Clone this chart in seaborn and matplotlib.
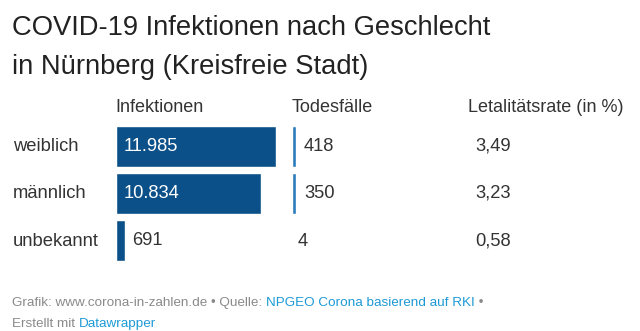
import matplotlib
matplotlib.use("Agg")
import matplotlib.pyplot as plt
import seaborn as sns
import pandas as pd

categories = ["weiblich", "männlich", "unbekannt"]
infektionen = [11985, 10834, 691]
todesfaelle = [418, 350, 4]
letalitaet = [3.49, 3.23, 0.58]
inf_labels = ["11.985", "10.834", "691"]
tod_labels = ["418", "350", "4"]
let_labels = ["3,49", "3,23", "0,58"]

sns.set_theme(style="white")
plt.rcParams["font.family"] = ["Liberation Sans", "DejaVu Sans"]

W, H = 640, 331
fig = plt.figure(figsize=(W / 100, H / 100), dpi=100)
fig.patch.set_facecolor("white")

def px_axes(left, top, width, height):
    return fig.add_axes([left / W, 1 - (top + height) / H, width / W, height / H])

df = pd.DataFrame({"cat": categories, "inf": infektionen, "tod": todesfaelle})

DARK = "#0b5089"
LIGHT = "#2b7cbd"
TXT = "#333333"
fs = 13.2

# Infektionen
ax1 = px_axes(116, 123, 160, 141)
sns.barplot(data=df, x="inf", y="cat", orient="h", color=DARK, width=0.87,
            saturation=1, ax=ax1)
ax1.set_xlim(0, max(infektionen))
ax1.set_ylim(2.5, -0.5)
ax1.axis("off")
for i, (v, lab) in enumerate(zip(infektionen, inf_labels)):
    if v > 3000:
        ax1.text(560, i, lab, color="white", va="center", ha="left", fontsize=fs)
    else:
        ax1.text(v + 520, i, lab, color=TXT, va="center", ha="left", fontsize=fs)

# Todesfälle
ax2 = px_axes(292, 123, 40, 141)
sns.barplot(data=df, x="tod", y="cat", orient="h", color=LIGHT, width=0.87,
            saturation=1, ax=ax2)
ax2.set_xlim(0, 3900)
ax2.set_ylim(2.5, -0.5)
ax2.axis("off")

row_y = [146.5, 193.5, 241.5]
for i, y in enumerate(row_y):
    fig.text(13 / W, 1 - y / H, categories[i], color=TXT, fontsize=fs, va="center", ha="left")
    tx = 304 if todesfaelle[i] > 50 else 298
    fig.text(tx / W, 1 - y / H, tod_labels[i], color=TXT, fontsize=fs, va="center", ha="left")
    fig.text(475 / W, 1 - y / H, let_labels[i], color=TXT, fontsize=fs, va="center", ha="left")

# headers
hy = 1 - 108 / H
fig.text(115 / W, hy, "Infektionen", color=TXT, fontsize=13, va="center", ha="left")
fig.text(292 / W, hy, "Todesfälle", color=TXT, fontsize=13, va="center", ha="left")
fig.text(468 / W, hy, "Letalitätsrate (in %)", color=TXT, fontsize=13, va="center", ha="left")

# title
fig.text(12 / W, 1 - 35 / H, "COVID-19 Infektionen nach Geschlecht", color="#222222",
         fontsize=19.7, va="baseline", ha="left")
fig.text(12 / W, 1 - 74 / H, "in Nürnberg (Kreisfreie Stadt)", color="#222222",
         fontsize=19.7, va="baseline", ha="left")

# footer
GREY = "#8a8a8a"
BLUE = "#1d9ad6"
fy1 = 1 - 306 / H
fy2 = 1 - 327 / H
parts1 = [("Grafik: www.corona-in-zahlen.de • Quelle: ", GREY),
          ("NPGEO Corona basierend auf RKI", BLUE), (" •", GREY)]
parts2 = [("Erstellt mit ", GREY), ("Datawrapper", BLUE)]
renderer = fig.canvas.get_renderer()
for parts, fy in ((parts1, fy1), (parts2, fy2)):
    x = 12 / W
    for s, c in parts:
        t = fig.text(x, fy, s, color=c, fontsize=9.7, va="baseline", ha="left")
        bb = t.get_window_extent(renderer=renderer)
        x += bb.width / W

fig.savefig("out.png", dpi=100, facecolor="white")
